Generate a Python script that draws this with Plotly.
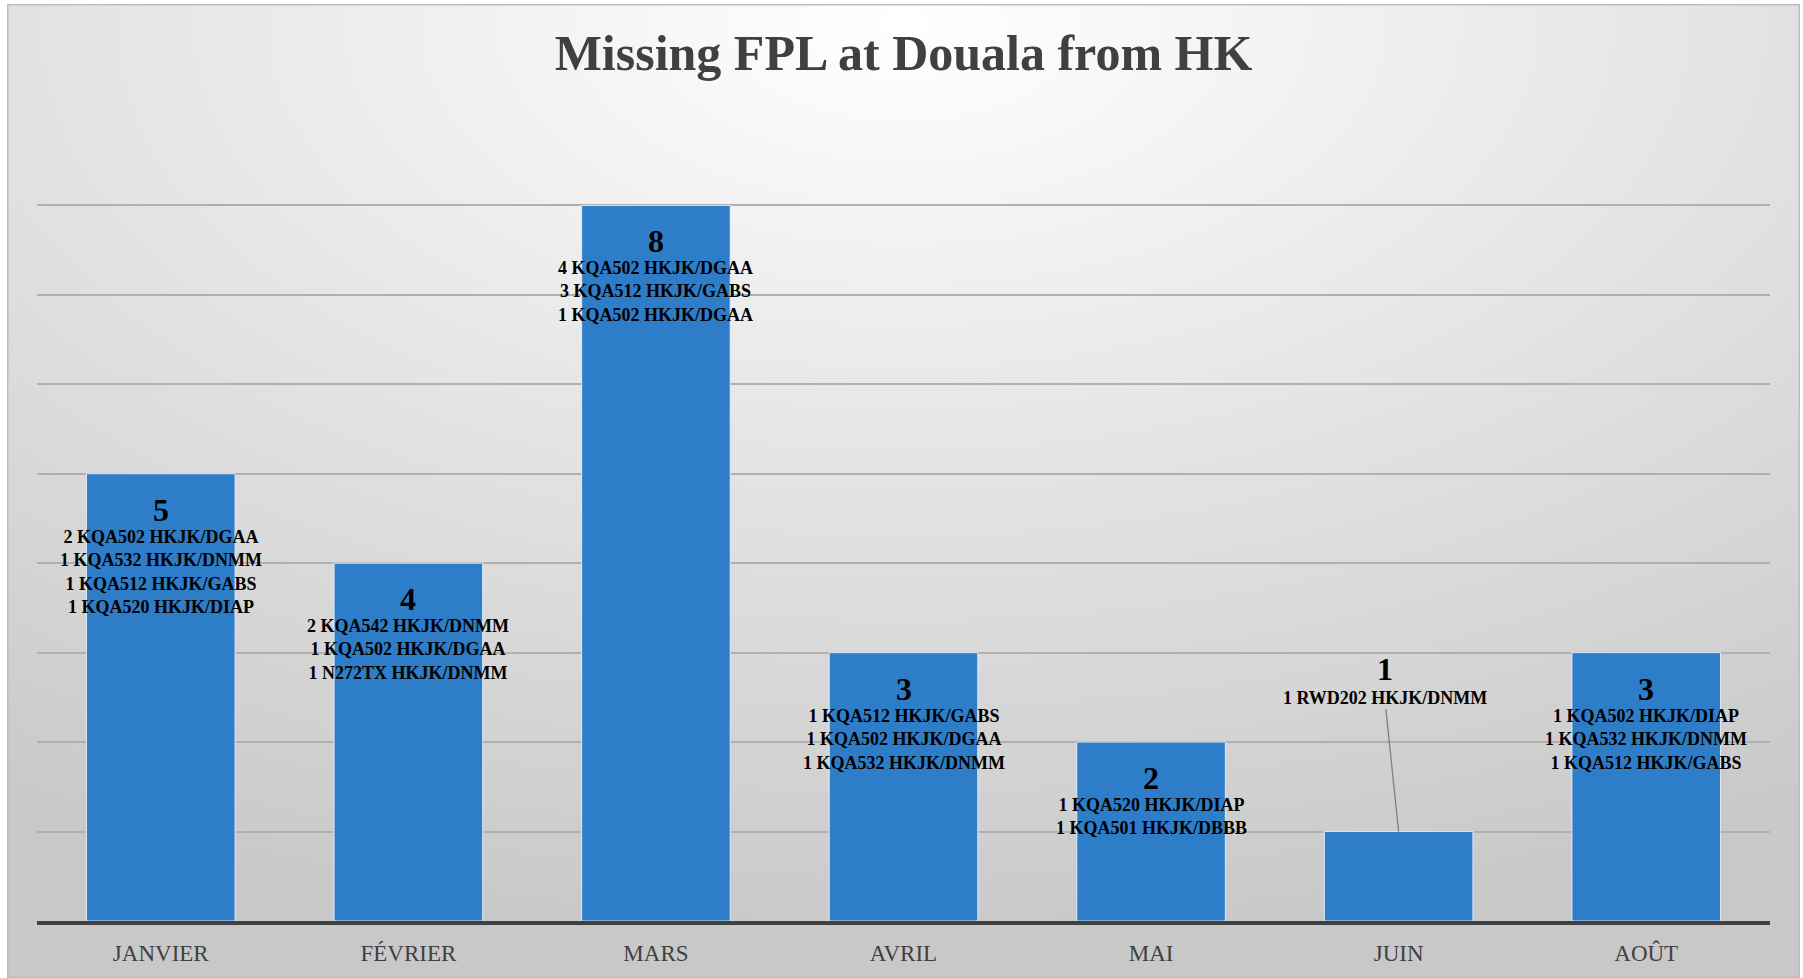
import base64
import plotly.graph_objects as go

# ---- data ----
months = ["JANVIER", "FÉVRIER", "MARS", "AVRIL", "MAI", "JUIN", "AOÛT"]
counts = [5, 4, 8, 3, 2, 1, 3]
details = [
    ["2 KQA502 HKJK/DGAA", "1 KQA532 HKJK/DNMM", "1 KQA512 HKJK/GABS", "1 KQA520 HKJK/DIAP"],
    ["2 KQA542 HKJK/DNMM", "1 KQA502 HKJK/DGAA", "1 N272TX HKJK/DNMM"],
    ["4 KQA502 HKJK/DGAA", "3 KQA512 HKJK/GABS", "1 KQA502 HKJK/DGAA"],
    ["1 KQA512 HKJK/GABS", "1 KQA502 HKJK/DGAA", "1 KQA532 HKJK/DNMM"],
    ["1 KQA520 HKJK/DIAP", "1 KQA501 HKJK/DBBB"],
    ["1 RWD202 HKJK/DNMM"],
    ["1 KQA502 HKJK/DIAP", "1 KQA532 HKJK/DNMM", "1 KQA512 HKJK/GABS"],
]
title = "Missing FPL at Douala from HK"

W, H = 1803, 978
ML, MR, MT, MB = 37, 33, 116, 57
pw, ph = W - ML - MR, H - MT - MB

SERIF = "Liberation Serif, Times New Roman, serif"

fig = go.Figure()
fig.add_trace(go.Bar(
    x=months, y=counts,
    marker=dict(color="#2E7DC8", line=dict(color="rgba(235,245,255,0.85)", width=1)),
    hoverinfo="x+y",
))

annotations = []
for m, c, d in zip(months, counts, details):
    outside = c < 1.5
    if not outside:
        annotations.append(dict(x=m, y=c, xref="x", yref="y", text="<b>%d</b>" % c,
                                showarrow=False, yanchor="middle", yshift=-36,
                                font=dict(family=SERIF, size=32, color="#000000")))
        annotations.append(dict(x=m, y=c, xref="x", yref="y", text="<br>".join("<b>%s</b>" % t for t in d),
                                showarrow=False, yanchor="top", yshift=-51,
                                font=dict(family=SERIF, size=18, color="#000000")))
    else:
        annotations.append(dict(x=m, y=c, xref="x", yref="y", text="<b>%d</b>" % c,
                                showarrow=False, yanchor="middle", yshift=163, xshift=-14,
                                font=dict(family=SERIF, size=32, color="#000000")))
        annotations.append(dict(x=m, y=c, xref="x", yref="y", text="<br>".join("<b>%s</b>" % t for t in d),
                                showarrow=True, arrowhead=0, arrowwidth=1.3, arrowcolor="#7f7f7f",
                                ax=-14, ay=-134, standoff=0,
                                font=dict(family=SERIF, size=18, color="#000000")))

# background: radial gradient panel
svg = f'''<svg xmlns="http://www.w3.org/2000/svg" width="{W}" height="{H}" viewBox="0 0 1793 974" preserveAspectRatio="none">
<defs><radialGradient id="g" cx="0.5" cy="0.02" r="0.95" fx="0.5" fy="0.02">
<stop offset="0" stop-color="#ffffff"/>
<stop offset="0.5" stop-color="#e3e3e3"/>
<stop offset="1" stop-color="#c8c8c8"/>
</radialGradient></defs>
<rect x="0" y="0" width="1793" height="974" fill="url(#g)" stroke="#bdbdbd" stroke-width="3"/>
</svg>'''
src = "data:image/svg+xml;base64," + base64.b64encode(svg.encode()).decode()
x0 = (7 - ML) / pw
x1 = (1800 - ML) / pw
y_top = (H - MB - 4) / ph
y_bot = (H - MB - 978) / ph

fig.update_layout(
    width=W, height=H,
    margin=dict(l=ML, r=MR, t=MT, b=MB),
    paper_bgcolor="#ffffff", plot_bgcolor="rgba(0,0,0,0)",
    bargap=0.4, showlegend=False,
    title=dict(text="<b>%s</b>" % title, x=0.5, xref="paper", xanchor="center",
               y=1 - 52 / H, yanchor="middle",
               font=dict(family=SERIF, size=50, color="#404040")),
    images=[dict(source=src, xref="paper", yref="paper", x=x0, y=y_top,
                 sizex=x1 - x0, sizey=y_top - y_bot, xanchor="left", yanchor="top",
                 sizing="stretch", layer="below")],
    annotations=annotations,
    xaxis=dict(showline=True, linecolor="#404040", linewidth=4, ticks="",
               showgrid=False, ticklabelstandoff=8,
               tickfont=dict(family=SERIF, size=23, color="#404040")),
    yaxis=dict(range=[0, 9], dtick=1, showticklabels=False, showgrid=True,
               gridcolor="#b0b0b0", gridwidth=1.5, zeroline=False, showline=False),
)

fig.write_html("out.html", config={"displayModeBar": False},
               post_script="document.body.style.margin='0';document.body.style.overflow='hidden';")
